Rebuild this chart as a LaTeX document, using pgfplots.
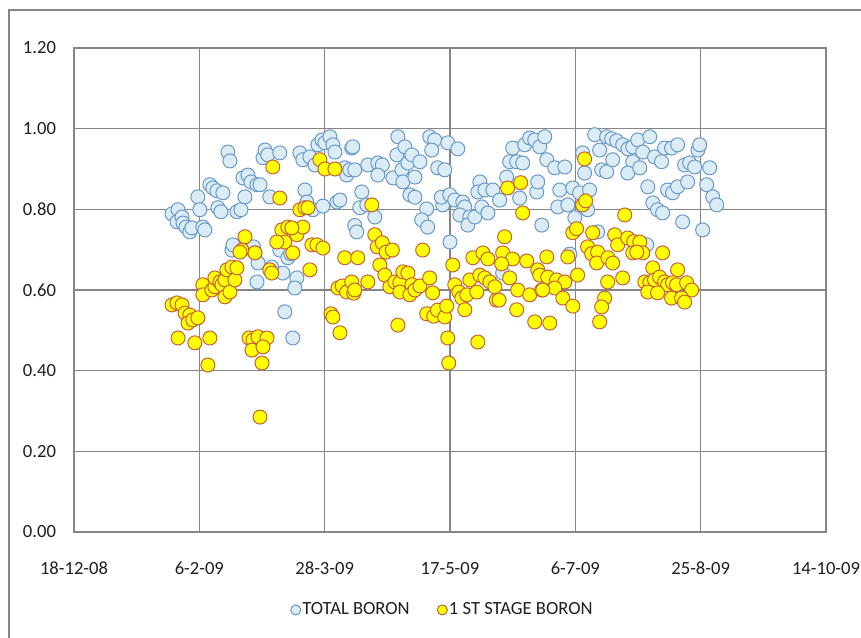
\documentclass[border=0pt]{standalone}
\usepackage{pgfplots}
\pgfplotsset{compat=1.18}
\usepackage{fontspec}
\setmainfont{Carlito}

\definecolor{framegray}{RGB}{134,134,134}
\definecolor{totalfill}{RGB}{219,236,244}
\definecolor{totaledge}{RGB}{104,152,202}
\definecolor{stagefill}{RGB}{255,255,0}
\definecolor{stageedge}{RGB}{198,96,58}
\definecolor{labelgray}{RGB}{30,30,30}

% x = days after 18-12-08, y = boron concentration
\pgfplotstableread{
d v
39.1 0.789
41.5 0.799
41.1 0.769
43.1 0.781
43.5 0.766
44.7 0.756
46.2 0.744
47.0 0.754
51.4 0.756
52.2 0.749
49.4 0.831
50.2 0.799
54.2 0.861
55.4 0.853
57.0 0.846
59.4 0.841
57.4 0.804
58.6 0.794
61.4 0.942
62.2 0.920
65.0 0.794
66.6 0.799
68.2 0.831
67.4 0.878
69.4 0.885
70.6 0.868
73.0 0.861
63.0 0.699
63.4 0.712
71.6 0.707
72.2 0.692
73.4 0.667
73.0 0.620
75.4 0.928
76.2 0.947
77.3 0.935
82.1 0.940
90.1 0.940
91.3 0.923
94.1 0.930
96.1 0.910
97.3 0.960
98.9 0.972
100.1 0.965
102.1 0.980
103.3 0.960
104.1 0.942
110.8 0.952
108.0 0.903
108.8 0.885
110.0 0.898
74.2 0.861
78.1 0.831
92.1 0.848
92.9 0.818
95.3 0.799
99.3 0.808
104.9 0.818
106.1 0.823
82.1 0.699
85.3 0.680
86.5 0.690
83.3 0.642
88.9 0.630
88.1 0.605
78.9 0.657
84.1 0.546
87.3 0.481
111.2 0.955
112.0 0.898
117.2 0.910
121.2 0.915
123.0 0.910
121.2 0.885
127.2 0.878
128.8 0.935
129.2 0.980
130.8 0.898
131.2 0.868
132.0 0.955
133.2 0.915
134.8 0.935
136.0 0.880
138.0 0.918
141.9 0.980
143.9 0.972
142.7 0.947
145.1 0.903
147.9 0.898
114.8 0.843
114.0 0.804
116.8 0.811
120.0 0.781
112.0 0.760
112.8 0.744
134.0 0.836
136.0 0.830
140.7 0.801
138.7 0.774
141.1 0.756
147.1 0.811
146.5 0.830
150.0 0.719
149.1 0.965
153.1 0.950
161.9 0.868
161.1 0.843
163.9 0.848
167.1 0.848
169.8 0.823
172.6 0.880
173.8 0.918
175.0 0.952
176.6 0.918
179.0 0.915
179.8 0.960
181.8 0.977
183.8 0.972
185.8 0.955
149.9 0.836
151.9 0.823
155.1 0.818
155.9 0.806
153.9 0.786
157.9 0.781
157.1 0.761
159.9 0.781
162.7 0.806
165.1 0.791
177.8 0.828
184.6 0.843
185.0 0.868
186.6 0.761
171.0 0.642
187.8 0.980
188.6 0.923
191.8 0.903
195.8 0.905
202.9 0.940
203.7 0.890
207.7 0.985
209.7 0.947
212.5 0.980
214.5 0.975
216.5 0.970
218.9 0.960
221.0 0.950
222.9 0.955
222.9 0.918
210.5 0.898
212.5 0.893
214.9 0.923
220.9 0.890
193.8 0.848
199.0 0.853
201.7 0.841
205.7 0.848
193.0 0.806
197.0 0.811
199.8 0.779
204.9 0.799
208.9 0.744
197.8 0.689
224.9 0.972
229.7 0.980
226.9 0.942
225.7 0.903
231.6 0.930
234.4 0.918
235.6 0.952
238.4 0.952
240.8 0.960
243.6 0.910
245.6 0.915
247.6 0.905
248.9 0.947
249.6 0.960
253.6 0.903
252.4 0.861
228.9 0.856
236.8 0.848
238.8 0.841
240.8 0.856
244.8 0.868
254.8 0.831
256.4 0.811
230.9 0.816
232.8 0.799
234.8 0.791
242.8 0.769
250.8 0.749
228.5 0.712
}\totalboron

\pgfplotstableread{
d v
39.1 0.563
41.1 0.568
43.1 0.563
44.3 0.543
46.2 0.538
45.5 0.518
47.4 0.526
49.4 0.531
41.5 0.481
48.2 0.469
54.2 0.481
53.4 0.414
51.4 0.613
51.4 0.588
55.0 0.600
56.2 0.608
56.2 0.630
58.2 0.620
59.0 0.613
60.2 0.625
60.2 0.583
62.2 0.595
61.0 0.650
63.0 0.657
64.2 0.625
65.0 0.655
67.0 0.699
66.2 0.694
68.2 0.732
72.2 0.692
69.8 0.481
71.4 0.476
71.0 0.451
73.4 0.484
77.0 0.481
75.4 0.459
75.0 0.419
74.2 0.285
79.3 0.905
82.1 0.828
98.1 0.923
100.1 0.900
104.1 0.900
90.1 0.799
92.1 0.804
93.3 0.804
82.9 0.749
85.3 0.756
84.1 0.719
80.9 0.719
88.9 0.737
91.3 0.756
86.9 0.754
94.9 0.712
96.9 0.712
99.3 0.704
87.3 0.692
78.1 0.650
78.9 0.642
94.1 0.650
108.0 0.680
105.3 0.605
107.0 0.610
108.8 0.595
110.8 0.620
111.6 0.592
102.5 0.541
103.3 0.533
106.1 0.494
113.2 0.680
117.2 0.620
112.0 0.600
118.8 0.811
120.0 0.737
121.0 0.707
123.0 0.717
124.5 0.694
127.0 0.699
139.1 0.699
122.0 0.662
124.0 0.637
126.0 0.608
128.0 0.620
130.0 0.618
131.2 0.645
133.2 0.642
130.0 0.595
134.8 0.613
134.0 0.588
136.0 0.600
138.0 0.610
141.9 0.630
143.1 0.593
129.2 0.513
140.7 0.541
143.5 0.535
145.0 0.550
147.9 0.533
149.1 0.481
149.5 0.419
148.7 0.560
151.1 0.662
173.0 0.853
178.2 0.866
179.0 0.791
171.8 0.732
159.1 0.680
163.1 0.692
165.1 0.677
171.0 0.692
175.0 0.677
170.6 0.665
173.8 0.630
180.6 0.672
185.0 0.650
151.9 0.613
153.5 0.595
154.7 0.580
156.7 0.588
157.9 0.625
160.7 0.595
161.9 0.637
163.9 0.630
165.9 0.620
167.9 0.608
168.5 0.575
169.6 0.575
155.9 0.551
177.0 0.600
181.8 0.588
176.6 0.551
183.8 0.521
186.6 0.600
161.1 0.471
188.6 0.682
197.0 0.682
185.8 0.637
189.0 0.632
192.5 0.625
195.8 0.620
191.8 0.605
187.0 0.600
195.0 0.580
199.0 0.560
189.8 0.518
203.7 0.925
202.9 0.811
204.1 0.821
219.7 0.786
199.0 0.742
200.5 0.752
206.9 0.742
215.7 0.737
216.9 0.712
220.9 0.729
223.3 0.720
204.9 0.707
206.5 0.690
208.9 0.694
208.5 0.667
213.0 0.680
214.9 0.667
222.9 0.692
200.9 0.637
212.9 0.620
218.9 0.630
211.7 0.580
210.5 0.558
209.7 0.521
225.7 0.719
226.9 0.692
224.5 0.694
234.8 0.692
240.8 0.650
230.9 0.655
227.7 0.620
229.7 0.618
231.6 0.625
233.6 0.632
235.6 0.620
236.8 0.613
238.8 0.618
240.4 0.613
244.4 0.618
246.4 0.600
228.9 0.595
232.8 0.593
238.4 0.580
242.4 0.580
243.6 0.570
}\stageboron

\begin{document}
\begin{tikzpicture}
\useasboundingbox (0,0) rectangle (430.5pt,-318.5pt);
\clip (0,0) rectangle (430.5pt,-318.5pt);
% chart frame
\draw[framegray, line width=1pt] (4.5pt,-330pt) -- (4.5pt,-5pt) -- (440pt,-5pt);
\begin{axis}[
  at={(37pt,-266pt)}, anchor=south west,
  scale only axis, width=376pt, height=242pt,
  xmin=0, xmax=300, ymin=0, ymax=1.2,
  xtick={0,50,...,300},
  xticklabels={18-12-08,6-2-09,28-3-09,17-5-09,6-7-09,25-8-09,14-10-09},
  ytick={0,0.2,...,1.2},
  /pgf/number format/assume math mode=true,
  yticklabel style={/pgf/number format/fixed, /pgf/number format/fixed zerofill,
    /pgf/number format/precision=2},
  major tick length=0pt,
  grid=major,
  major grid style={framegray, line width=0.8pt},
  axis line style={framegray, line width=0.8pt},
  every tick label/.append style={font=\fontsize{9.3}{11}\selectfont, text=labelgray},
  xticklabel style={anchor=base, yshift=-21pt},
  yticklabel style={xshift=-5.5pt},
  legend style={at={(0.49,-0.161)}, anchor=center, draw=none, fill=none,
    font=\fontsize{9.3}{11}\selectfont, text=labelgray, legend columns=2,
    /tikz/every even column/.append style={column sep=13pt},
    nodes={inner sep=0.8pt}, inner sep=0pt},
  legend cell align=left,
  legend image code/.code={\draw[#1, mark size=2.5pt] plot coordinates {(2.5pt,0pt)};},
]
\addplot[only marks, mark=*, mark size=3.5pt,
  mark options={fill=totalfill, draw=totaledge, line width=0.5pt}]
  table[x=d, y=v] {\totalboron};
\addlegendentry{TOTAL BORON}
\addplot[only marks, mark=*, mark size=3.5pt,
  mark options={fill=stagefill, draw=stageedge, line width=0.5pt}]
  table[x=d, y=v] {\stageboron};
\addlegendentry{1 ST STAGE BORON}
\end{axis}
\end{tikzpicture}
\end{document}
